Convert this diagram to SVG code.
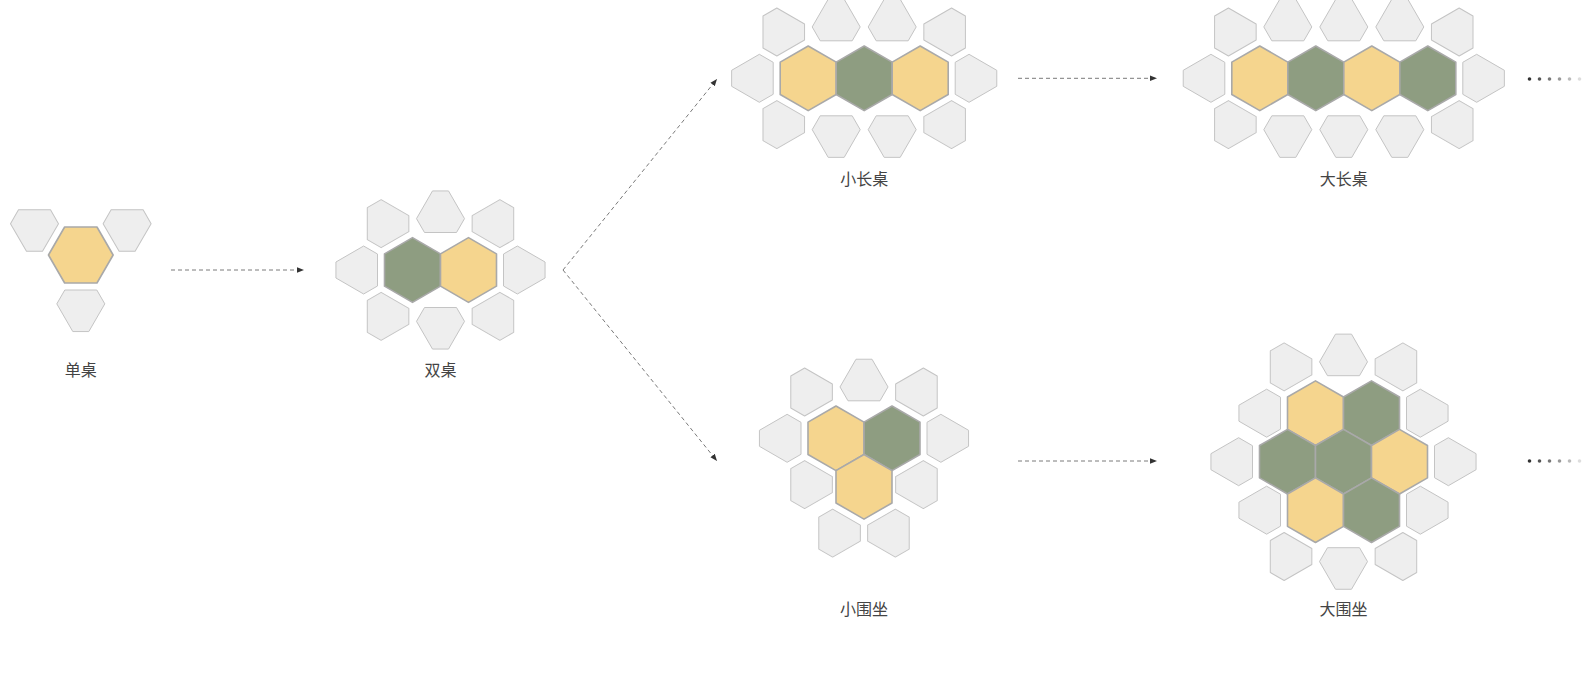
<svg xmlns="http://www.w3.org/2000/svg" xmlns:xlink="http://www.w3.org/1999/xlink" width="1582" height="677" viewBox="0 0 1582 677">
<style>
.bg{fill:#ffffff}
.chair{fill:#eeeeee;stroke:#c4c4c4;stroke-width:1;stroke-linejoin:round}
.ty{fill:#f5d58e;stroke:#a9a9a9;stroke-width:1.6;stroke-linejoin:round}
.tg{fill:#8e9d81;stroke:#a9a9a9;stroke-width:1.6;stroke-linejoin:round}
.lbl{font-family:"Noto Sans CJK SC","Noto Sans",sans-serif;font-size:16px;fill:#444444;text-anchor:middle}
.dash{fill:none;stroke:#7a7a7a;stroke-width:1;stroke-dasharray:4 3}
</style>
<defs>
<polygon id="hexP" points="0,-32.33 28,-16.17 28,16.17 0,32.33 -28,16.17 -28,-16.17"/>
<polygon id="hexF" points="-32.33,0 -16.17,-28 16.17,-28 32.33,0 16.17,28 -16.17,28"/>
<polygon id="chair" class="chair" points="-16,-35 16,-35 24,-48.86 8,-76.57 -8,-76.57 -24,-48.86"/>
<polygon id="chairN" class="chair" points="-16,-37.5 16,-37.5 24,-51.36 8,-79.07 -8,-79.07 -24,-51.36"/>
<marker id="ah" viewBox="0 0 10 10" refX="10" refY="5" markerWidth="7" markerHeight="7" orient="auto" markerUnits="userSpaceOnUse">
<path d="M0,1 L10,5 L0,9 z" fill="#333333"/>
</marker>
</defs>
<rect class="bg" x="0" y="0" width="1582" height="677"/>

<g id="connectors">
<line class="dash" x1="171" y1="270" x2="304" y2="270" marker-end="url(#ah)"/>
<line class="dash" x1="563" y1="270" x2="717" y2="79" marker-end="url(#ah)"/>
<line class="dash" x1="563" y1="270" x2="717" y2="461" marker-end="url(#ah)"/>
<line class="dash" x1="1018" y1="78.3" x2="1157" y2="78.3" marker-end="url(#ah)"/>
<line class="dash" x1="1018" y1="461" x2="1157" y2="461" marker-end="url(#ah)"/>
</g>

<g id="single">
<use href="#chair" transform="translate(80.8,255) rotate(-60)"/>
<use href="#chair" transform="translate(80.8,255) rotate(60)"/>
<use href="#chair" transform="translate(80.8,255) rotate(180)"/>
<use href="#hexF" class="ty" transform="translate(80.8,255)"/>
<text class="lbl" x="80.8" y="376">单桌</text>
</g>

<g id="double">
<use href="#chair" transform="translate(412.5,270) rotate(270)"/>
<use href="#chair" transform="translate(412.5,270) rotate(-30)"/>
<use href="#chair" transform="translate(412.5,270) rotate(210)"/>
<use href="#chair" transform="translate(468.5,270) rotate(90)"/>
<use href="#chair" transform="translate(468.5,270) rotate(30)"/>
<use href="#chair" transform="translate(468.5,270) rotate(150)"/>
<use href="#chairN" transform="translate(440.5,270)"/>
<use href="#chairN" transform="translate(440.5,270) rotate(180)"/>
<use href="#hexP" class="tg" transform="translate(412.5,270)"/>
<use href="#hexP" class="ty" transform="translate(468.5,270)"/>
<text class="lbl" x="440.5" y="376">双桌</text>
</g>

<g id="small-long">
<use href="#chair" transform="translate(808.2,78.3) rotate(270)"/>
<use href="#chair" transform="translate(808.2,78.3) rotate(-30)"/>
<use href="#chair" transform="translate(808.2,78.3) rotate(210)"/>
<use href="#chair" transform="translate(920.2,78.3) rotate(90)"/>
<use href="#chair" transform="translate(920.2,78.3) rotate(30)"/>
<use href="#chair" transform="translate(920.2,78.3) rotate(150)"/>
<use href="#chairN" transform="translate(836.2,78.3)"/>
<use href="#chairN" transform="translate(892.2,78.3)"/>
<use href="#chairN" transform="translate(836.2,78.3) rotate(180)"/>
<use href="#chairN" transform="translate(892.2,78.3) rotate(180)"/>
<use href="#hexP" class="ty" transform="translate(808.2,78.3)"/>
<use href="#hexP" class="tg" transform="translate(864.2,78.3)"/>
<use href="#hexP" class="ty" transform="translate(920.2,78.3)"/>
<text class="lbl" x="864.2" y="184.5">小长桌</text>
</g>

<g id="big-long">
<use href="#chair" transform="translate(1259.8,78.3) rotate(270)"/>
<use href="#chair" transform="translate(1259.8,78.3) rotate(-30)"/>
<use href="#chair" transform="translate(1259.8,78.3) rotate(210)"/>
<use href="#chair" transform="translate(1427.8,78.3) rotate(90)"/>
<use href="#chair" transform="translate(1427.8,78.3) rotate(30)"/>
<use href="#chair" transform="translate(1427.8,78.3) rotate(150)"/>
<use href="#chairN" transform="translate(1287.8,78.3)"/>
<use href="#chairN" transform="translate(1343.8,78.3)"/>
<use href="#chairN" transform="translate(1399.8,78.3)"/>
<use href="#chairN" transform="translate(1287.8,78.3) rotate(180)"/>
<use href="#chairN" transform="translate(1343.8,78.3) rotate(180)"/>
<use href="#chairN" transform="translate(1399.8,78.3) rotate(180)"/>
<use href="#hexP" class="ty" transform="translate(1259.8,78.3)"/>
<use href="#hexP" class="tg" transform="translate(1315.8,78.3)"/>
<use href="#hexP" class="ty" transform="translate(1371.8,78.3)"/>
<use href="#hexP" class="tg" transform="translate(1427.8,78.3)"/>
<text class="lbl" x="1343.8" y="184.5">大长桌</text>
</g>

<g id="small-round">
<use href="#chairN" transform="translate(864,438.3)"/>
<use href="#chair" transform="translate(836,438.3) rotate(-30)"/>
<use href="#chair" transform="translate(836,438.3) rotate(270)"/>
<use href="#chair" transform="translate(836,438.3) rotate(210)"/>
<use href="#chair" transform="translate(892,438.3) rotate(30)"/>
<use href="#chair" transform="translate(892,438.3) rotate(90)"/>
<use href="#chair" transform="translate(892,438.3) rotate(150)"/>
<use href="#chair" transform="translate(864,486.8) rotate(210)"/>
<use href="#chair" transform="translate(864,486.8) rotate(150)"/>
<use href="#hexP" class="ty" transform="translate(836,438.3)"/>
<use href="#hexP" class="tg" transform="translate(892,438.3)"/>
<use href="#hexP" class="ty" transform="translate(864,486.8)"/>
<text class="lbl" x="864" y="614.5">小围坐</text>
</g>

<g id="big-round">
<use href="#chairN" transform="translate(1343.5,413.2)"/>
<use href="#chairN" transform="translate(1343.5,510.2) rotate(180)"/>
<use href="#chair" transform="translate(1315.5,413.2) rotate(-30)"/>
<use href="#chair" transform="translate(1315.5,413.2) rotate(270)"/>
<use href="#chair" transform="translate(1371.5,413.2) rotate(30)"/>
<use href="#chair" transform="translate(1371.5,413.2) rotate(90)"/>
<use href="#chair" transform="translate(1287.5,461.7) rotate(270)"/>
<use href="#chair" transform="translate(1399.5,461.7) rotate(90)"/>
<use href="#chair" transform="translate(1315.5,510.2) rotate(270)"/>
<use href="#chair" transform="translate(1315.5,510.2) rotate(210)"/>
<use href="#chair" transform="translate(1371.5,510.2) rotate(90)"/>
<use href="#chair" transform="translate(1371.5,510.2) rotate(150)"/>
<use href="#hexP" class="ty" transform="translate(1315.5,413.2)"/>
<use href="#hexP" class="tg" transform="translate(1371.5,413.2)"/>
<use href="#hexP" class="tg" transform="translate(1287.5,461.7)"/>
<use href="#hexP" class="tg" transform="translate(1343.5,461.7)"/>
<use href="#hexP" class="ty" transform="translate(1399.5,461.7)"/>
<use href="#hexP" class="ty" transform="translate(1315.5,510.2)"/>
<use href="#hexP" class="tg" transform="translate(1371.5,510.2)"/>
<text class="lbl" x="1343.5" y="614.5">大围坐</text>
</g>

<g id="more-top">
<circle cx="1529.5" cy="79" r="1.8" fill="#333333"/>
<circle cx="1539.5" cy="79" r="1.8" fill="#555555"/>
<circle cx="1549.5" cy="79" r="1.8" fill="#777777"/>
<circle cx="1559.5" cy="79" r="1.8" fill="#999999"/>
<circle cx="1569.5" cy="79" r="1.8" fill="#bbbbbb"/>
<circle cx="1579.5" cy="79" r="1.8" fill="#dddddd"/>
</g>
<g id="more-bottom">
<circle cx="1529.5" cy="461" r="1.8" fill="#333333"/>
<circle cx="1539.5" cy="461" r="1.8" fill="#555555"/>
<circle cx="1549.5" cy="461" r="1.8" fill="#777777"/>
<circle cx="1559.5" cy="461" r="1.8" fill="#999999"/>
<circle cx="1569.5" cy="461" r="1.8" fill="#bbbbbb"/>
<circle cx="1579.5" cy="461" r="1.8" fill="#dddddd"/>
</g>
</svg>
